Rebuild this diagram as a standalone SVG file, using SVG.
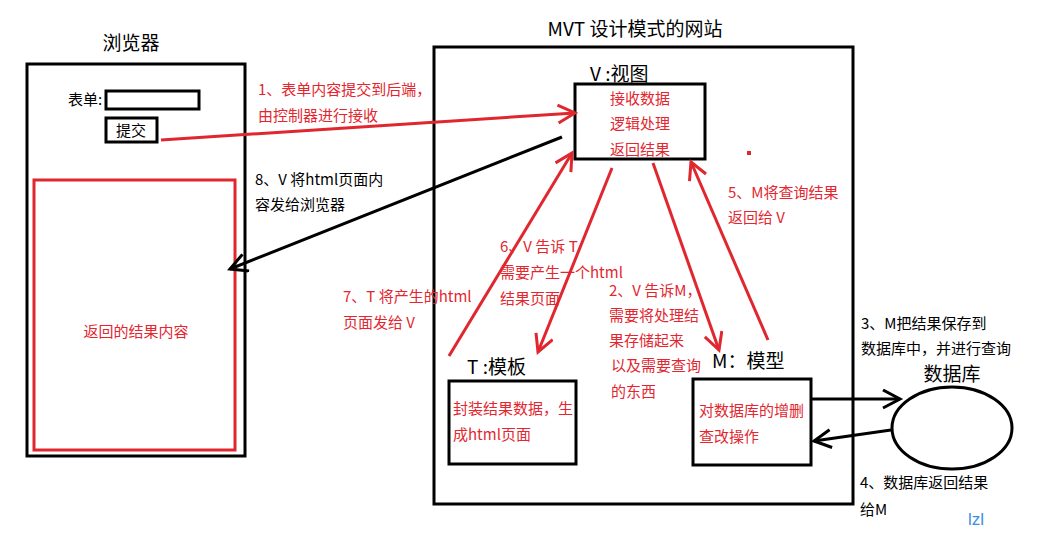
<svg xmlns="http://www.w3.org/2000/svg" width="1039" height="540" viewBox="0 0 1039 540">
<style>
  .box{fill:none;stroke:#000;stroke-width:3}
  .rbox{fill:none;stroke:#e0262e;stroke-width:3}
  .t{font-family:"Noto Sans CJK SC","Liberation Sans",sans-serif;font-size:15px}
  .red{fill:#e3262f}
  .blk{fill:#000}
  .title{font-family:"Noto Sans CJK SC","Liberation Sans",sans-serif;font-size:19px;fill:#000}
  .rl{fill:none;stroke:#e0262e;stroke-width:3;marker-end:url(#ar)}
  .bl{fill:none;stroke:#000;stroke-width:3;marker-end:url(#ab)}
</style>
<defs>
  <marker id="ar" markerUnits="userSpaceOnUse" markerWidth="30" markerHeight="30" refX="19" refY="10" orient="auto">
    <path d="M2,1 L19,10 L2,19" fill="none" stroke="#e0262e" stroke-width="3"/>
  </marker>
  <marker id="ab" markerUnits="userSpaceOnUse" markerWidth="30" markerHeight="30" refX="19" refY="10" orient="auto">
    <path d="M2,1 L19,10 L2,19" fill="none" stroke="#000" stroke-width="3"/>
  </marker>
</defs>
<rect width="1039" height="540" fill="#fff"/>

<g id="browser">
  <text class="title" x="131" y="50" text-anchor="middle">浏览器</text>
  <rect class="box" x="27" y="64" width="218" height="392"/>
  <text class="t blk" x="68" y="105">表单:</text>
  <rect class="box" x="106" y="91" width="93" height="18"/>
  <rect class="box" x="106" y="118" width="51" height="24"/>
  <text class="t blk" x="131" y="136" text-anchor="middle">提交</text>
  <rect class="rbox" x="34" y="180" width="201" height="270"/>
  <text class="t red" x="136" y="337" text-anchor="middle">返回的结果内容</text>
</g>

<g id="website">
  <text class="title" x="635" y="36" text-anchor="middle">MVT 设计模式的网站</text>
  <rect class="box" x="434" y="47" width="419" height="457"/>
</g>

<g id="view">
  <text class="title" x="590" y="81">V :视图</text>
  <rect class="box" x="575" y="84" width="130" height="75"/>
  <text class="t red" x="640" y="104" text-anchor="middle">接收数据</text>
  <text class="t red" x="640" y="129" text-anchor="middle">逻辑处理</text>
  <text class="t red" x="640" y="155" text-anchor="middle">返回结果</text>
</g>

<g id="template">
  <text class="title" x="467" y="374">T :模板</text>
  <rect class="box" x="449" y="381" width="127" height="83"/>
  <text class="t red" x="453" y="414">封装结果数据，生</text>
  <text class="t red" x="453" y="440">成html页面</text>
</g>

<g id="model">
  <text class="title" x="712" y="368">M：模型</text>
  <rect class="box" x="693" y="379" width="118" height="86"/>
  <text class="t red" x="699" y="416">对数据库的增删</text>
  <text class="t red" x="699" y="442">查改操作</text>
</g>

<g id="database">
  <text class="title" x="952" y="381" text-anchor="middle">数据库</text>
  <ellipse cx="952" cy="428" rx="60" ry="41" fill="none" stroke="#000" stroke-width="3"/>
</g>

<g id="connectors">
  <path class="rl" d="M161,140 L575,113"/>
  <path class="bl" d="M562,137 L230,269"/>
  <path class="rl" d="M449,356 L572,153"/>
  <path class="rl" d="M612,168 L538,352"/>
  <path class="rl" d="M653,163 L719,350"/>
  <path class="rl" d="M768,340 L691,162"/>
  <path class="bl" d="M812,399 L900,399"/>
  <path class="bl" d="M891,430 L814,441"/>
</g>

<g id="labels">
  <text class="t red" x="258" y="95">1、表单内容提交到后端，</text>
  <text class="t red" x="258" y="121">由控制器进行接收</text>
  <text class="t blk" x="255" y="185">8、V 将html页面内</text>
  <text class="t blk" x="255" y="210">容发给浏览器</text>
  <text class="t red" x="500" y="252">6、V 告诉 T</text>
  <text class="t red" x="500" y="278">需要产生一个html</text>
  <text class="t red" x="500" y="304">结果页面</text>
  <text class="t red" x="343" y="302">7、T 将产生的html</text>
  <text class="t red" x="343" y="328">页面发给 V</text>
  <text class="t red" x="609" y="296">2、V 告诉M，</text>
  <text class="t red" x="609" y="321">需要将处理结</text>
  <text class="t red" x="609" y="346">果存储起来</text>
  <text class="t red" x="611" y="371">以及需要查询</text>
  <text class="t red" x="611" y="397">的东西</text>
  <text class="t red" x="728" y="198">5、M将查询结果</text>
  <text class="t red" x="728" y="223">返回给 V</text>
  <text class="t blk" x="861" y="329">3、M把结果保存到</text>
  <text class="t blk" x="861" y="354">数据库中，并进行查询</text>
  <text class="t blk" x="860" y="488">4、数据库返回结果</text>
  <text class="t blk" x="860" y="515">给M</text>
  <rect x="747" y="151" width="4" height="4" fill="#e0262e"/>
  <text x="968" y="525" font-family="Liberation Sans, sans-serif" font-size="17" fill="#3a8fe0">lzl</text>
</g>
</svg>
